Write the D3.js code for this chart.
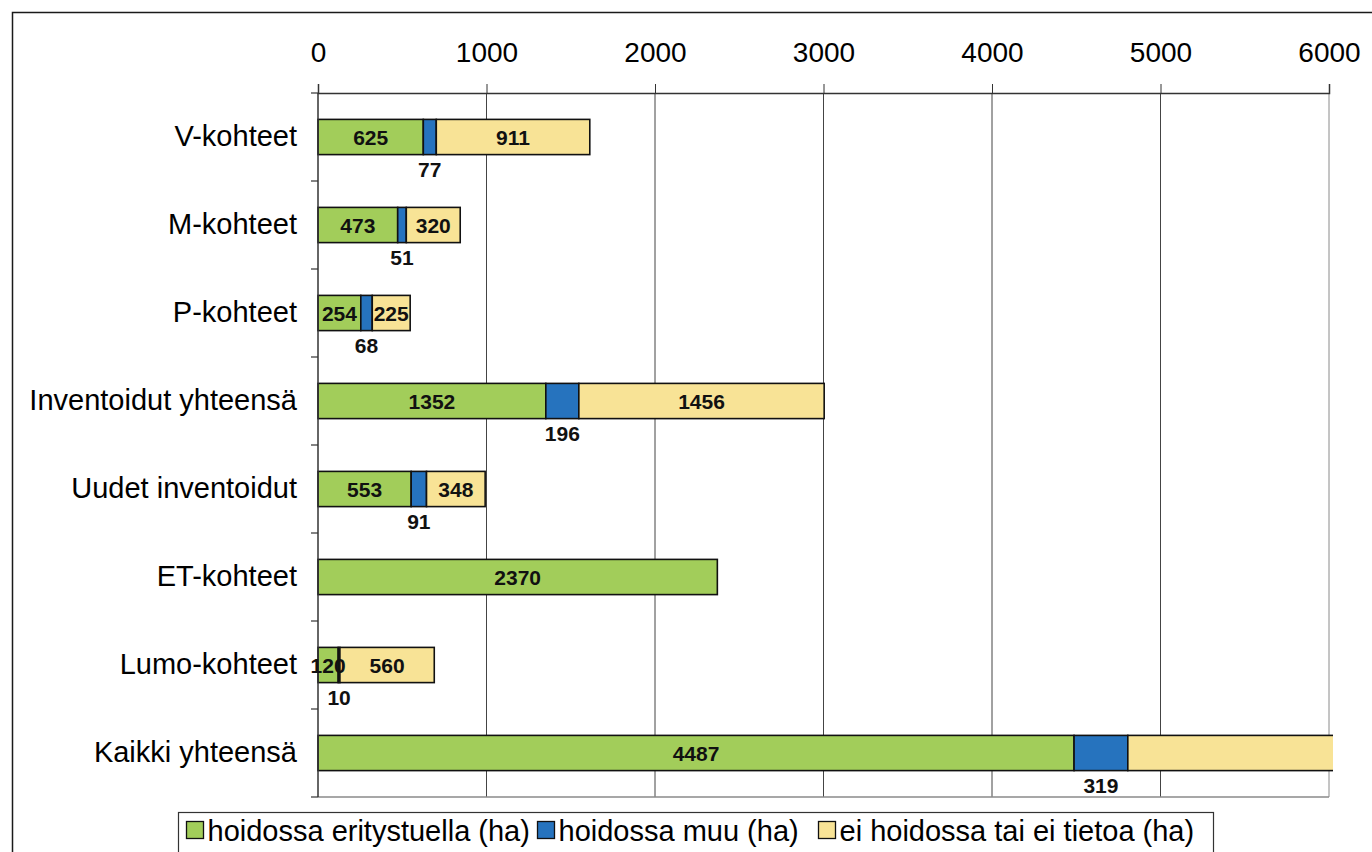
<!DOCTYPE html>
<html>
<head>
<meta charset="utf-8">
<script src="https://cdn.jsdelivr.net/npm/d3@7"></script>
<style>
  body { margin: 0; background: #fff; }
  svg { display: block; font-family: "Liberation Sans", Arial, sans-serif; }
</style>
</head>
<body>
<div id="chart"></div>
<script>
var categories = ["V-kohteet", "M-kohteet", "P-kohteet", "Inventoidut yhteensä",
    "Uudet inventoidut", "ET-kohteet", "Lumo-kohteet", "Kaikki yhteensä"];
var seriesNames = ["hoidossa eritystuella (ha)", "hoidossa muu (ha)", "ei hoidossa tai ei tietoa (ha)"];
var erityistuella = [625, 473, 254, 1352, 553, 2370, 120, 4487];
var muu = [77, 51, 68, 196, 91, 0, 10, 319];
var eiHoidossa = [911, 320, 225, 1456, 348, 0, 560, 2364];
var tickValues = [0, 1000, 2000, 3000, 4000, 5000, 6000];

var colors = ["#a2cd5a", "#2673be", "#f8e396"];

var W = 1372, H = 852;
var margin = { top: 93, right: 43, bottom: 55, left: 318 };
var width = W - margin.left - margin.right,
    height = H - margin.top - margin.bottom;

var svg = d3.select("#chart")
    .append("svg")
    .attr("width", W)
    .attr("height", H);

// outer frame (right and bottom edges run off the picture)
svg.append("rect")
    .attr("x", 12.5).attr("y", 12.5)
    .attr("width", W).attr("height", H)
    .attr("fill", "none")
    .attr("stroke", "#1a1a1a")
    .attr("stroke-width", 1.5);

var g = svg.append("g")
    .attr("transform", "translate(" + margin.left + "," + margin.top + ")");

var x = d3.scaleLinear().domain([0, 6000]).range([0, width]);
var y = d3.scaleBand().domain(categories).range([0, height]).padding(0);

var data = categories.map((c, i) => {
    return { cat: c, values: [erityistuella[i], muu[i], eiHoidossa[i]] };
});
var stack = d3.stack().keys([0, 1, 2]).value((d, k) => d.values[k]);
var series = stack(data);

// vertical gridlines
g.selectAll(".grid")
    .data(tickValues.slice(1))
    .enter().append("line")
    .attr("class", "grid")
    .attr("x1", d => x(d)).attr("x2", d => x(d))
    .attr("y1", 0).attr("y2", height)
    .attr("stroke", (d, i) => i === tickValues.length - 2 ? "#8a8a8a" : "#444")
    .attr("stroke-width", 1);

// bottom border of plot
g.append("line")
    .attr("x1", 0).attr("x2", x(6000))
    .attr("y1", height).attr("y2", height)
    .attr("stroke", "#8a8a8a").attr("stroke-width", 1.5);

// top axis
var xAxis = d3.axisTop(x).tickValues(tickValues).tickFormat(d3.format("d"))
    .tickSize(9).tickPadding(22);
var ax = g.append("g").attr("class", "x axis").call(xAxis);
ax.select(".domain").attr("stroke", "#333").attr("stroke-width", 1.5);
ax.selectAll(".tick line").attr("stroke", "#333");
ax.selectAll("text").attr("font-size", 28).attr("fill", "#000")
    .style("font-family", "'Liberation Sans', Arial, sans-serif");

// left axis with ticks at category boundaries
var yAxis = d3.axisLeft(y).tickSize(0).tickPadding(21);
var ay = g.append("g").attr("class", "y axis").call(yAxis);
ay.select(".domain").remove();
ay.selectAll("text").attr("font-size", 29).attr("fill", "#000")
    .style("font-family", "'Liberation Sans', Arial, sans-serif");

var bounds = categories.map(c => y(c)).concat([height]);
g.selectAll(".ytick")
    .data(bounds)
    .enter().append("line")
    .attr("class", "ytick")
    .attr("x1", -7).attr("x2", 0)
    .attr("y1", d => d).attr("y2", d => d)
    .attr("stroke", "#333").attr("stroke-width", 1.2);

// clip for bars that overflow the axis
svg.append("defs").append("clipPath").attr("id", "clip")
    .append("rect").attr("x", -2).attr("y", -2)
    .attr("width", x(6000) + 6).attr("height", height + 4);

var barH = y.bandwidth() * 0.4;
var barsG = g.append("g").attr("clip-path", "url(#clip)");

barsG.selectAll(".layer")
    .data(series)
    .enter().append("g")
    .attr("class", "layer")
    .attr("fill", (d, i) => colors[i])
    .selectAll("rect")
    .data(d => d.filter(s => s[1] - s[0] > 0))
    .enter().append("rect")
    .attr("x", d => x(d[0]))
    .attr("width", d => x(d[1]) - x(d[0]))
    .attr("y", d => y(d.data.cat) + (y.bandwidth() - barH) / 2)
    .attr("height", barH)
    .attr("stroke", "#111")
    .attr("stroke-width", 1.6);

// left axis line on top of bars
g.append("line")
    .attr("x1", 0).attr("x2", 0).attr("y1", 0).attr("y2", height)
    .attr("stroke", "#333").attr("stroke-width", 1.5);

// value labels (segments running past the axis end get no label)
series.forEach((s, k) => {
    g.selectAll(".lab" + k)
        .data(s.filter(d => d[1] - d[0] > 0 && d[1] <= 6000))
        .enter().append("text")
        .attr("class", "lab" + k)
        .attr("x", d => x((d[0] + d[1]) / 2))
        .attr("y", d => {
            var cy = y(d.data.cat) + y.bandwidth() / 2;
            return k === 1 ? cy + barH / 2 + 22 : cy + 7.5;
        })
        .attr("text-anchor", "middle")
        .attr("font-size", 21)
        .attr("font-weight", "bold")
        .attr("fill", "#111")
        .text(d => d[1] - d[0]);
});

// legend
var legend = svg.append("g").attr("transform", "translate(178.5,812.5)");
legend.append("rect")
    .attr("width", 1035).attr("height", 60)
    .attr("fill", "#fff").attr("stroke", "#333").attr("stroke-width", 1.2);
var itemX = [8, 359, 640];
seriesNames.forEach((name, i) => {
    var it = legend.append("g").attr("transform", "translate(" + itemX[i] + ",0)");
    it.append("rect")
        .attr("x", 0).attr("y", 9).attr("width", 17).attr("height", 17)
        .attr("fill", colors[i]).attr("stroke", "#111").attr("stroke-width", 1.3);
    it.append("text")
        .attr("x", 21).attr("y", 28)
        .attr("font-size", 29)
        .attr("fill", "#000")
        .text(name);
});
</script>
</body>
</html>
